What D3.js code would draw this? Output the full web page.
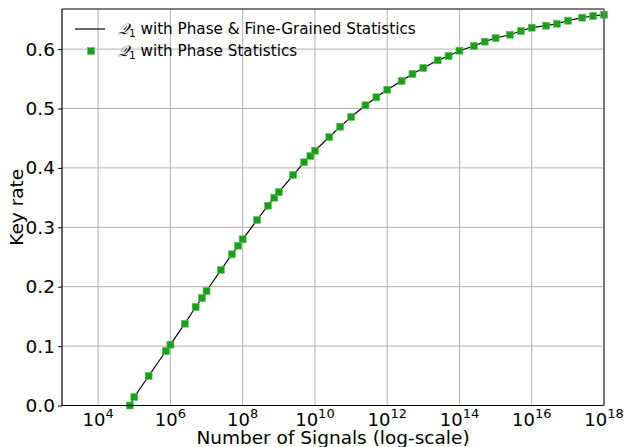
<!DOCTYPE html>
<html>
<head>
<meta charset="utf-8">
<script src="https://cdn.jsdelivr.net/npm/d3@7"></script>
<style>
  html, body { margin: 0; padding: 0; background: #fff; }
  svg { display: block; font-family: "DejaVu Sans", sans-serif; }
</style>
</head>
<body>
<svg id="chart" width="626" height="447"></svg>
<script>
// Number of signals (x, log-scale)
const signals = [7.5e4, 1e5, 2.5e5, 7.5e5, 1e6, 2.5e6, 5e6, 7.5e6, 1e7, 2.5e7, 5e7, 7.5e7, 1e8,
  2.5e8, 5e8, 7.5e8, 1e9, 2.5e9, 5e9, 7.5e9, 1e10, 2.5e10, 5e10, 1e11, 2.5e11, 5e11, 1e12,
  2.5e12, 5e12, 1e13, 2.5e13, 5e13, 1e14, 2.5e14, 5e14, 1e15, 2.5e15, 5e15, 1e16, 2.5e16,
  5e16, 1e17, 2.5e17, 5e17, 1e18];
// Key rate, Q1 with Phase & Fine-Grained Statistics (line)
const keyRateFine = [0.0, 0.0143, 0.0497, 0.0917, 0.1024, 0.1377, 0.1658, 0.181, 0.1928, 0.2281,
  0.2545, 0.269, 0.2798, 0.3123, 0.3364, 0.3498, 0.3594, 0.388, 0.4094, 0.42, 0.429, 0.452,
  0.4694, 0.4857, 0.5054, 0.5189, 0.5316, 0.5463, 0.5581, 0.5682, 0.5811, 0.5884, 0.5973,
  0.6052, 0.6125, 0.6187, 0.6242, 0.6305, 0.636, 0.6394, 0.6427, 0.6478, 0.6529, 0.6557, 0.6579];
// Key rate, Q1 with Phase Statistics (markers)
const keyRatePhase = [0.0, 0.0143, 0.0497, 0.0917, 0.1024, 0.1377, 0.1658, 0.181, 0.1928, 0.2281,
  0.2545, 0.269, 0.2798, 0.3123, 0.3364, 0.3498, 0.3594, 0.388, 0.4094, 0.42, 0.429, 0.452,
  0.4694, 0.4857, 0.5054, 0.5189, 0.5316, 0.5463, 0.5581, 0.5682, 0.5811, 0.5884, 0.5973,
  0.6052, 0.6125, 0.6187, 0.6242, 0.6305, 0.636, 0.6394, 0.6427, 0.6478, 0.6529, 0.6557, 0.6579];
const xTickExps = [4, 6, 8, 10, 12, 14, 16, 18];
const yTicks = [0.0, 0.1, 0.2, 0.3, 0.4, 0.5, 0.6];
const seriesNames = ["with Phase & Fine-Grained Statistics", "with Phase Statistics"];

const svg = d3.select("#chart");
const m = {left: 62, right: 22, top: 9, bottom: 41.5};
const W = 626, H = 447;
const x = d3.scaleLog().domain([1e3, 1e18]).range([m.left, W - m.right]);
const y = d3.scaleLinear().domain([0, 0.6675]).range([H - m.bottom, m.top]);

const green = "#1c9e1c";
const grid = "#b0b0b0";

// grid
const g = svg.append("g");
g.selectAll("line.vx").data(xTickExps).join("line")
  .attr("x1", d => x(Math.pow(10, d))).attr("x2", d => x(Math.pow(10, d)))
  .attr("y1", y(0)).attr("y2", m.top)
  .attr("stroke", grid).attr("stroke-width", 1);
g.selectAll("line.hy").data(yTicks).join("line")
  .attr("x1", m.left).attr("x2", W - m.right)
  .attr("y1", d => y(d)).attr("y2", d => y(d))
  .attr("stroke", grid).attr("stroke-width", 1);

// data line
const line = d3.line().x((d, i) => x(signals[i])).y(d => y(d));
svg.append("path").datum(keyRateFine).attr("d", line)
  .attr("fill", "none").attr("stroke", "#000").attr("stroke-width", 1.2);

// markers
const ms = 7;
svg.selectAll("rect.pt").data(keyRatePhase).join("rect")
  .attr("x", (d, i) => x(signals[i]) - ms / 2).attr("y", d => y(d) - ms / 2)
  .attr("width", ms).attr("height", ms)
  .attr("fill", green).attr("stroke", "#5cc45c").attr("stroke-width", 0.6);

// spines
svg.append("line").attr("x1", m.left).attr("x2", m.left).attr("y1", m.top).attr("y2", y(0)).attr("stroke", "#000").attr("stroke-width", 1.2);
svg.append("line").attr("x1", m.left).attr("x2", W - m.right).attr("y1", y(0)).attr("y2", y(0)).attr("stroke", "#000").attr("stroke-width", 1.2);
svg.append("line").attr("x1", m.left).attr("x2", W - m.right).attr("y1", m.top).attr("y2", m.top).attr("stroke", "#000").attr("stroke-width", 1.2);
svg.append("line").attr("x1", W - m.right).attr("x2", W - m.right).attr("y1", m.top).attr("y2", y(0)).attr("stroke", "#777").attr("stroke-width", 2);

// y axis ticks/labels
const yAxis = d3.axisLeft(y).tickValues(yTicks).tickFormat(d3.format(".1f")).tickSize(4).tickPadding(3);
const ya = svg.append("g").attr("transform", `translate(${m.left},0)`).call(yAxis);
ya.select(".domain").remove();
ya.selectAll("text").attr("font-size", 18.5).attr("font-family", "DejaVu Sans").attr("fill", "#000");
ya.selectAll("line").attr("stroke", "#000");

// x axis labels with superscripts
const xa = svg.append("g");
xTickExps.forEach(e => {
  const t = xa.append("text").attr("x", x(Math.pow(10, e))).attr("y", y(0) + 20)
    .attr("text-anchor", "middle").attr("font-size", 18).attr("fill", "#000");
  t.append("tspan").text("10");
  t.append("tspan").attr("font-size", 13).attr("dy", -8).text(String(e));
});

// axis titles
svg.append("text").attr("x", (m.left + W - m.right) / 2).attr("y", 444)
  .attr("text-anchor", "middle").attr("font-size", 18.5).text("Number of Signals (log-scale)");
svg.append("text").attr("transform", `translate(23,${(m.top + y(0)) / 2}) rotate(-90)`)
  .attr("text-anchor", "middle").attr("font-size", 18.5).text("Key rate");

// legend
const lg = svg.append("g");
lg.append("line").attr("x1", 75).attr("x2", 105).attr("y1", 29).attr("y2", 29).attr("stroke", "#000").attr("stroke-width", 1.2);
lg.append("rect").attr("x", 91 - ms / 2).attr("y", 51 - ms / 2).attr("width", ms).attr("height", ms)
  .attr("fill", green).attr("stroke", "#5cc45c").attr("stroke-width", 0.6);
[29, 51].forEach((yy, i) => {
  const t = lg.append("text").attr("x", 118).attr("y", yy + 5).attr("font-size", 15.2);
  t.append("tspan").attr("font-family", "DejaVu Serif").attr("font-style", "italic").text("𝒬");
  t.append("tspan").attr("font-size", 10.5).attr("dy", 3).text("1");
  t.append("tspan").attr("dy", -3).text(" " + seriesNames[i]);
});
</script>
</body>
</html>
